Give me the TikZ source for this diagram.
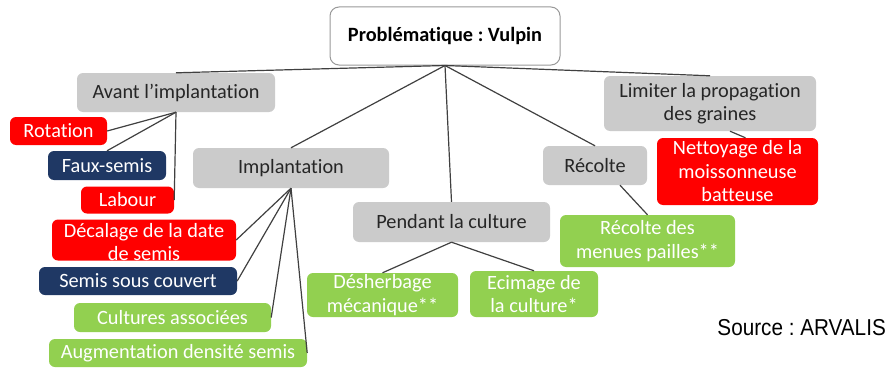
\documentclass[tikz,border=0pt]{standalone}
\usepackage{fontspec}
\setmainfont[Ligatures=NoCommon]{Carlito}
\newfontfamily\srcfont[FakeStretch=0.9]{Liberation Sans}
\definecolor{boxred}{HTML}{FF0000}
\definecolor{boxnavy}{HTML}{1F3864}
\definecolor{boxgreen}{HTML}{92D050}
\definecolor{boxgray}{HTML}{CBCBCB}
\definecolor{linegray}{HTML}{404040}
\definecolor{txtdark}{HTML}{262626}
\frenchspacing
\begin{document}
\begin{tikzpicture}[x=1pt,y=-1pt,
 box/.style={rounded corners=6pt, inner sep=0pt, align=center, font=\fontsize{20.3}{23.5}\selectfont},
 greybox/.style={box, fill=boxgray, text=txtdark},
 redbox/.style={box, fill=boxred, text=white},
 navybox/.style={box, fill=boxnavy, text=white},
 greenbox/.style={box, fill=boxgreen, text=white},
 topbox/.style={box, fill=white, draw=gray!80, line width=1pt, rounded corners=9pt, text=black, font=\bfseries\fontsize{20.3}{23.5}\selectfont},
 link/.style={draw=linegray, line width=1.2pt}]
\useasboundingbox (0,0) rectangle (890,369);

\node[topbox, minimum width=230pt, minimum height=58pt] (prob) at (445,36) {Problématique : Vulpin};

\node[greybox, minimum width=198pt, minimum height=39pt] (avant) at (176,92.5) {Avant l’implantation};
\node[greybox, minimum width=196pt, minimum height=40pt] (impl) at (291,168) {Implantation};
\node[greybox, minimum width=197pt, minimum height=40pt] (pend) at (451.5,222) {Pendant la culture};
\node[greybox, minimum width=104pt, minimum height=39pt] (recolte) at (595,165.5) {Récolte};
\node[greybox, minimum width=212pt, minimum height=55pt] (limiter) at (710,103.5) {Limiter la propagation\\des graines};

\node[redbox, minimum width=97pt, minimum height=28pt] (rot) at (58.5,131) {Rotation};
\node[navybox, minimum width=118pt, minimum height=29pt] (faux) at (107,165.5) {Faux-semis};
\node[redbox, minimum width=93pt, minimum height=27pt] (labour) at (127.5,200) {Labour};
\node[redbox, minimum width=184pt, text height=41pt, text depth=-2pt] (decal) at (144,240) {Décalage de la date\\de semis};
\node[navybox, minimum width=198pt, minimum height=28pt] (semis) at (138,281) {Semis sous couvert};
\node[greenbox, minimum width=197pt, minimum height=29pt] (cult) at (172.5,317.5) {Cultures associées};
\node[greenbox, minimum width=258pt, minimum height=28pt] (augm) at (178,353) {Augmentation densité semis};

\node[greenbox, minimum width=151pt, minimum height=44pt] (desh) at (382.5,295) {Désherbage\\mécanique**};
\node[greenbox, minimum width=128pt, minimum height=46pt] (ecim) at (534,294) {Ecimage de\\la culture*};
\node[greenbox, minimum width=175pt, minimum height=52pt] (menues) at (647.5,241) {Récolte des\\menues pailles**};
\node[redbox, minimum width=161pt, minimum height=67pt] (nett) at (737.5,171.5) {Nettoyage de la\\moissonneuse\\batteuse};

\node[anchor=east, inner sep=0pt, font=\srcfont\fontsize{23}{26}\selectfont] (src) at (886,328) {Source : ARVALIS};

\draw[link] (prob.south) -- (avant.north);
\draw[link] (prob.south) -- (impl.north);
\draw[link] (prob.south) -- (pend.north);
\draw[link] (prob.south) -- (recolte.north);
\draw[link] (prob.south) -- (limiter.north);

\draw[link] (avant.south) -- (rot.east);
\draw[link] (avant.south) -- (faux.north);
\draw[link] (avant.south) -- (labour.east);

\draw[link] (impl.south) -- (decal.east);
\draw[link] (impl.south) -- (semis.east);
\draw[link] (impl.south) -- (cult.east);
\draw[link] (impl.south) -- (augm.east);

\draw[link] (pend.south) -- (desh.north);
\draw[link] (pend.south) -- (ecim.north);

\draw[link] ([xshift=25pt]recolte.south) -- (menues.north);
\draw[link] ([xshift=20pt]limiter.south) -- ([xshift=8pt]nett.north);
\end{tikzpicture}
\end{document}
